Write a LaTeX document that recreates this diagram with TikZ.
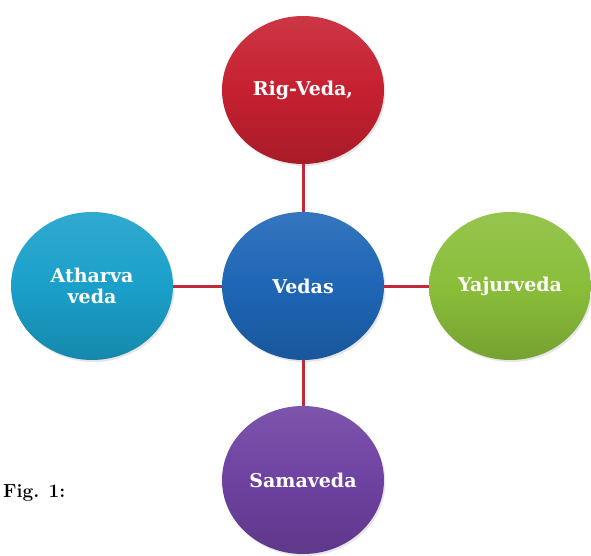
\documentclass[tikz,border=0pt]{standalone}
\usepackage{fontspec}
\newfontfamily\vedafont{DejaVu Serif}
\definecolor{rigred}{RGB}{198, 32, 48}
\definecolor{vedablue}{RGB}{30, 102, 182}
\definecolor{athcyan}{RGB}{26, 160, 202}
\definecolor{yajgreen}{RGB}{138, 190, 58}
\definecolor{samapurple}{RGB}{110, 66, 162}
\definecolor{linkred}{RGB}{192, 42, 58}
\usetikzlibrary{shapes.geometric, shadows}

\begin{document}
\begin{tikzpicture}[
  x=1pt, y=-1pt,
  veda/.style={ellipse, minimum width=162pt, minimum height=148pt, inner sep=0pt, outer sep=0pt,
    top color=#1!90!white, bottom color=#1!85!black, middle color=#1,
    drop shadow={opacity=0.2, shadow xshift=1.5pt, shadow yshift=-2pt},
    text=white, align=center, font=\vedafont\bfseries\fontsize{19}{21}\selectfont},
  link/.style={draw=linkred, line width=3pt}
]
  \useasboundingbox (0,0) rectangle (591,556);
  % centre and the four Vedas
  \node[veda=vedablue] (vedas) at (303, 286) {Vedas};
  \node[veda=rigred] (rig) at (303, 90) {Rig-Veda,};
  \node[veda=athcyan] (atharva) at (92, 286) {Atharva\\veda};
  \node[veda=yajgreen] (yajur) at (510, 286) {Yajurveda};
  \node[veda=samapurple] (sama) at (303, 480) {Samaveda};

  \draw[link] (rig) -- (vedas);
  \draw[link] (atharva) -- (vedas);
  \draw[link] (vedas) -- (yajur);
  \draw[link] (vedas) -- (sama);

  \node[anchor=base west, inner sep=0pt, font=\bfseries\fontsize{19}{22}\selectfont] (fig) at (3, 497) {Fig. 1:};
\end{tikzpicture}
\end{document}
